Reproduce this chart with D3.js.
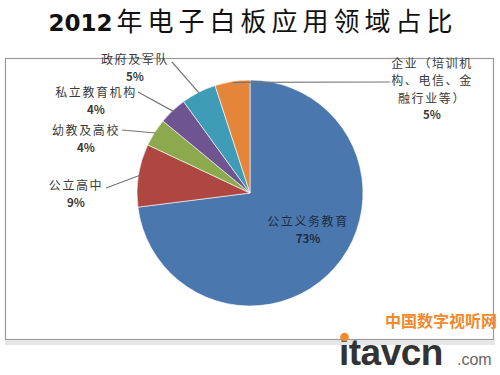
<!DOCTYPE html>
<html>
<head>
<meta charset="utf-8">
<script src="https://cdn.jsdelivr.net/npm/d3@7"></script>
<style>
  body { margin: 0; background: #fff; }
  svg text { font-family: "Noto Sans CJK SC", "Noto Sans", sans-serif; }
</style>
</head>
<body>
<svg width="500" height="375"></svg>
<script>
// data
var categories = ["公立义务教育", "公立高中", "幼教及高校", "私立教育机构", "政府及军队", "企业（培训机构、电信、金融行业等）"];
var shares = [73, 9, 4, 4, 5, 5];
var labelLines = [
  ["公立义务教育"],
  ["公立高中"],
  ["幼教及高校"],
  ["私立教育机构"],
  ["政府及军队"],
  ["企业（培训机", "构、电信、金", "融行业等）"]
];

var colors = ["#4A78AE", "#AE4642", "#8DA94E", "#6F5492", "#3E9CB6", "#E4853A"];

// label placement (text centre of first line, leader end point)
var labelLayout = [
  {x: 308, y: 221, inside: true},
  {x: 76, y: 185, lx: 106, ly: 188},
  {x: 86, y: 130, lx: 122, ly: 130},
  {x: 96, y: 92, lx: 138, ly: 92},
  {x: 135, y: 59, lx: 172, ly: 62},
  {x: 432, y: 63, lx: 390, ly: 82}
];

var svg = d3.select("svg"),
    cx = 250, cy = 193, radius = 113;

// title
var title = svg.append("text")
    .attr("x", 253)
    .attr("y", 31)
    .attr("text-anchor", "middle")
    .attr("fill", "#111");
title.append("tspan")
    .style("font-family", "'DejaVu Sans', sans-serif")
    .attr("font-weight", "bold")
    .attr("font-size", "23px")
    .text("2012");
title.append("tspan")
    .attr("font-size", "26px")
    .attr("letter-spacing", "5px")
    .attr("dx", 4)
    .text("年电子白板应用领域占比");

// frame
svg.append("rect")
    .attr("x", 5.5).attr("y", 58.5)
    .attr("width", 488).attr("height", 281)
    .attr("fill", "none")
    .attr("stroke", "#9a9a9a")
    .attr("stroke-width", 1.2);
svg.append("rect")
    .attr("x", 5).attr("y", 340)
    .attr("width", 490).attr("height", 5)
    .attr("fill", "#e6e6e6");

var pie = d3.pie().sort(null).value(function(d) { return d; });
var arcs = pie(shares);

var arc = d3.arc().innerRadius(0).outerRadius(radius);
var edge = d3.arc().innerRadius(radius - 1).outerRadius(radius - 1);

var g = svg.append("g").attr("transform", "translate(" + cx + "," + cy + ")");

g.selectAll("path.slice")
    .data(arcs)
  .enter().append("path")
    .attr("class", "slice")
    .attr("d", arc)
    .attr("fill", function(d, i) { return colors[i]; })
    .attr("stroke", "#fff")
    .attr("stroke-width", 0.6);

// leader lines
arcs.forEach(function(d, i) {
  var L = labelLayout[i];
  if (L.inside) return;
  var p = edge.centroid(d);
  var pts = [[p[0] + cx, p[1] + cy], [L.lx, L.ly]];
  svg.append("path")
      .attr("d", d3.line()(pts))
      .attr("fill", "none")
      .attr("stroke", "#777")
      .attr("stroke-width", 1.2);
});

// labels
labelLayout.forEach(function(L, i) {
  var lines = labelLines[i];
  var col = L.inside ? "#1c2b44" : "#3a3a3a";
  lines.forEach(function(s, k) {
    svg.append("text")
        .attr("x", L.x)
        .attr("y", L.y + 4.5 + k * 17.5)
        .attr("text-anchor", "middle")
        .attr("fill", col)
        .attr("font-size", "12px")
        .attr("letter-spacing", "1.6px")
        .text(s);
  });
  svg.append("text")
      .attr("x", L.x)
      .attr("y", L.y + 4.5 + lines.length * 17)
      .attr("text-anchor", "middle")
      .attr("font-size", "11.5px")
      .attr("font-weight", "bold")
      .attr("fill", col)
      .text(shares[i] + "%");
});

// watermark
svg.append("text")
    .attr("x", 497).attr("y", 326.5)
    .attr("text-anchor", "end")
    .attr("font-size", "16px")
    .attr("font-weight", "bold")
    .attr("fill", "#F08A2C")
    .text("中国数字视听网");
svg.append("text")
    .attr("x", 339).attr("y", 365)
    .style("font-family", "'Liberation Sans', Arial, sans-serif")
    .attr("font-size", "37px")
    .attr("font-weight", "bold")
    .attr("letter-spacing", "-0.5px")
    .attr("fill", "#333")
    .text("itavcn");
svg.append("circle")
    .attr("cx", 344.5).attr("cy", 337)
    .attr("r", 4.3)
    .attr("fill", "#F08A2C");
svg.append("text")
    .attr("x", 457).attr("y", 365)
    .style("font-family", "'Liberation Sans', Arial, sans-serif")
    .attr("font-size", "16px")
    .attr("fill", "#666")
    .text(".com");
</script>
</body>
</html>
